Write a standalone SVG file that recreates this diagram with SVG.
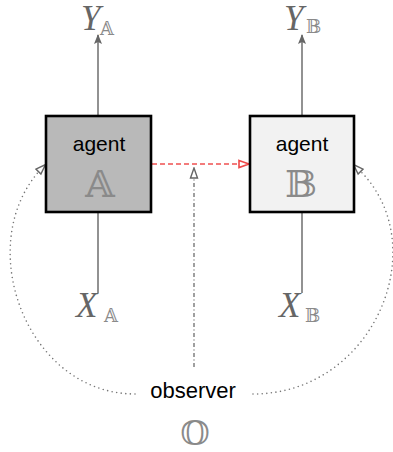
<svg xmlns="http://www.w3.org/2000/svg" width="393" height="452" viewBox="0 0 393 452">
<style>
.box{stroke:#000;stroke-width:2.6}
.lbl{font-family:"Liberation Sans",Arial,sans-serif;fill:#000;text-anchor:middle}
.bb{font-family:"DejaVu Serif","DejaVu Sans",serif;fill:#8a8a8a;text-anchor:middle}
.var{font-family:"Liberation Serif","Times New Roman",serif;font-style:italic;fill:#666}
.sub{font-family:"DejaVu Serif","DejaVu Sans",serif;fill:#8a8a8a}
.io{stroke:#777;stroke-width:1.6;fill:none}
.dot{stroke:#777;stroke-width:1.6;fill:none;stroke-dasharray:0 4.6;stroke-linecap:round}
</style>
<defs>
<marker id="ah" viewBox="0 0 10 10" refX="9" refY="5" markerWidth="10" markerHeight="10" markerUnits="userSpaceOnUse" orient="auto">
<path d="M0,1 L10,5 L0,9 L2,5 Z" fill="#666"/>
</marker>
<marker id="red" viewBox="0 0 12 10" refX="11" refY="5" markerWidth="12" markerHeight="10" markerUnits="userSpaceOnUse" orient="auto">
<path d="M1,1.5 L11,5 L1,8.5 Z" fill="#fff" stroke="#ee4848" stroke-width="1.6"/>
</marker>
<marker id="gray" viewBox="0 0 12 10" refX="11" refY="5" markerWidth="12" markerHeight="10" markerUnits="userSpaceOnUse" orient="auto">
<path d="M1,1.5 L11,5 L1,8.5 Z" fill="#fff" stroke="#666" stroke-width="1.4"/>
</marker>
</defs>
<g id="connectors">
<line class="io" x1="98" y1="116" x2="98" y2="35" marker-end="url(#ah)"/>
<line class="io" x1="302" y1="116" x2="302" y2="35" marker-end="url(#ah)"/>
<line class="io" x1="98" y1="212" x2="98" y2="293"/>
<line class="io" x1="302" y1="212" x2="302" y2="293"/>
<line x1="152" y1="164" x2="249" y2="164" stroke="#f05050" stroke-width="1.6" stroke-dasharray="5 3" marker-end="url(#red)"/>
<line x1="194" y1="367" x2="194" y2="168" stroke="#777" stroke-width="1.4" stroke-dasharray="4 2.5 1 2.5" marker-end="url(#gray)"/>
<path class="dot" d="M135,394 C25,394 -30,240 44,166"/>
<path class="dot" d="M253,394 C376,394 438,240 355,166"/>
<path d="M44,166 L45.5,164.5" stroke="none" fill="none" marker-end="url(#gray)"/>
<path d="M355,166 L353.5,164.5" stroke="none" fill="none" marker-end="url(#gray)"/>
</g>
<g id="agentA">
<rect class="box" x="46" y="116" width="105" height="96" fill="#b9b9b9"/>
<text class="lbl" x="99" y="151" font-size="21">agent</text>
<text class="bb" x="100" y="197" font-size="38">𝔸</text>
</g>
<g id="agentB">
<rect class="box" x="250" y="116" width="104" height="96" fill="#f2f2f2"/>
<text class="lbl" x="302" y="151" font-size="21">agent</text>
<text class="bb" x="301" y="197" font-size="38">𝔹</text>
</g>
<g id="YA"><text x="81" y="30"><tspan class="var" font-size="35">Y</tspan><tspan class="sub" font-size="18" x="100" y="35">𝔸</tspan></text></g>
<g id="YB"><text x="284" y="30"><tspan class="var" font-size="35">Y</tspan><tspan class="sub" font-size="18" x="306" y="33">𝔹</tspan></text></g>
<g id="XA"><text x="76" y="317"><tspan class="var" font-size="35">X</tspan><tspan class="sub" font-size="18" x="104" y="322">𝔸</tspan></text></g>
<g id="XB"><text x="279" y="317"><tspan class="var" font-size="35">X</tspan><tspan class="sub" font-size="18" x="305" y="322">𝔹</tspan></text></g>
<g id="observer">
<text class="lbl" x="193" y="398" font-size="22">observer</text>
<text class="bb" x="195" y="445" font-size="34">𝕆</text>
</g>
</svg>
